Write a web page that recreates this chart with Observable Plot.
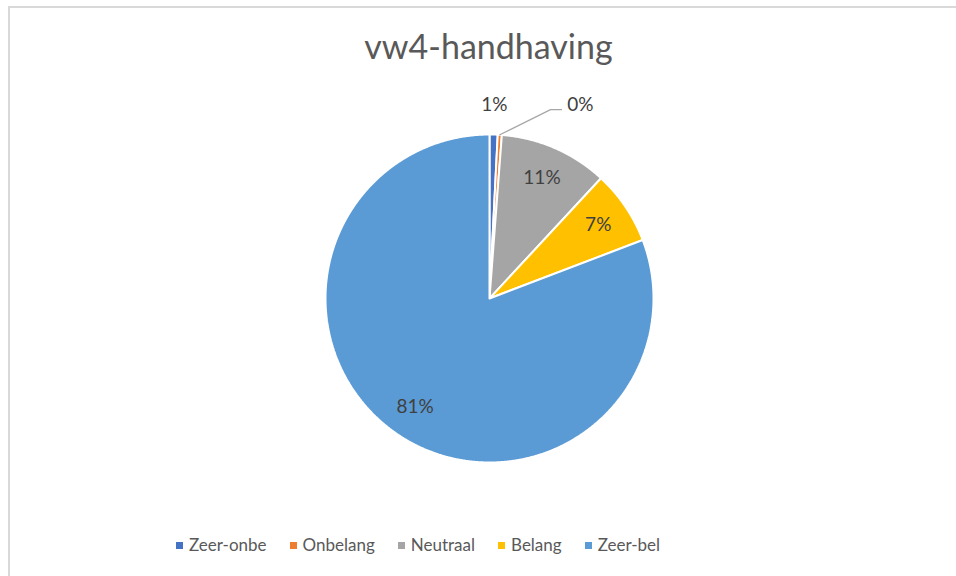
<!DOCTYPE html>
<html>
<head>
<meta charset="utf-8">
<script src="https://cdn.jsdelivr.net/npm/d3@7"></script>
<script src="https://cdn.jsdelivr.net/npm/@observablehq/plot@0.6"></script>
<style>
  body { margin: 0; background: #fff; font-family: Lato, "Open Sans", sans-serif; }
  #wrap { position: relative; width: 956px; height: 576px; overflow: hidden; background: #fff; }
  #frame { position: absolute; left: 8px; top: 6px; width: 1100px; height: 1100px; border: 2px solid #d9d9d9; box-sizing: border-box; }
  #title { position: absolute; left: 0; width: 977px; top: 26px; text-align: center; font-size: 34px; color: #595959; line-height: 40px; }
  #chart { position: absolute; left: 0; top: 0; }
  #legend { position: absolute; left: 176px; top: 532px; display: flex; align-items: center; gap: 23px; font-size: 17px; color: #595959; line-height: 26px; }
  .item { display: flex; align-items: center; gap: 6px; white-space: nowrap; }
  .sw { width: 7px; height: 7px; display: inline-block; }
</style>
</head>
<body>
<div id="wrap">
  <div id="frame"></div>
  <div id="title">vw4-handhaving</div>
  <div id="chart"></div>
  <div id="legend"></div>
</div>
<script>
// ---- data ----
const categories = ["Zeer-onbe", "Onbelang", "Neutraal", "Belang", "Zeer-bel"];
const shares = [0.8, 0.4, 10.7, 7.3, 80.8];          // percent of answers
const percentLabels = ["1%", "0%", "11%", "7%", "81%"];
const colors = ["#4472C4", "#ED7D31", "#A5A5A5", "#FFC000", "#5B9BD5"];

// ---- layout rules ----
const insideR = 0.8;       // label radius for large slices (fraction of radius)
const outsideR = 1.18;     // label radius for small slices
const smallSlice = 5;      // slices below this percentage get an outside label
const calloutShift = 0.48; // horizontal move of a colliding outside label (radius units)

const arcs = d3.pie().sort(null).value(d => d)(shares);

// wedge outlines, derived from the pie angles
const wedges = [];
arcs.forEach((a, i) => {
  const k = categories[i];
  const n = Math.max(2, Math.ceil((a.endAngle - a.startAngle) / (Math.PI / 720)));
  wedges.push({k, x: 0, y: 0});
  for (let j = 0; j <= n; j++) {
    const t = a.startAngle + (a.endAngle - a.startAngle) * j / n;
    wedges.push({k, x: Math.sin(t), y: Math.cos(t)});
  }
  wedges.push({k, x: 0, y: 0});
});

// labels
const labelData = [];
const leaders = [];
let outsideCount = 0;
arcs.forEach((a, i) => {
  const mid = (a.startAngle + a.endAngle) / 2;
  const small = shares[i] < smallSlice;
  const r = small ? outsideR : insideR;
  let x = r * Math.sin(mid), y = r * Math.cos(mid);
  if (small) {
    if (outsideCount > 0) {
      x += calloutShift;
      const ex = Math.sin(mid), ey = Math.cos(mid);
      leaders.push({k: categories[i], x: ex, y: ey});
      leaders.push({k: categories[i], x: x - 0.182, y: y - 0.026});
      leaders.push({k: categories[i], x: x - 0.115, y: y - 0.026});
    }
    outsideCount++;
  }
  labelData.push({k: categories[i], text: percentLabels[i], x, y});
});

const chart = Plot.plot({
  width: 956,
  height: 576,
  marginLeft: 325,
  marginRight: 303,
  marginTop: 134,
  marginBottom: 114,
  x: {domain: [-1, 1], axis: null},
  y: {domain: [-1, 1], axis: null},
  color: {domain: categories, range: colors},
  style: {background: "transparent", fontFamily: "Lato, 'Open Sans', sans-serif"},
  marks: [
    Plot.line(wedges, {x: "x", y: "y", z: "k", fill: "k", stroke: "white", strokeWidth: 2, strokeLinejoin: "miter", curve: "linear"}),
    Plot.line(leaders, {x: "x", y: "y", z: "k", stroke: "#a6a6a6", strokeWidth: 1.2, curve: "linear"}),
    Plot.text(labelData, {x: "x", y: "y", text: "text", fill: "#404040", fontSize: 19})
  ]
});
document.getElementById("chart").appendChild(chart);

// legend
const legend = document.getElementById("legend");
categories.forEach((c, i) => {
  const item = document.createElement("div");
  item.className = "item";
  const sw = document.createElement("span");
  sw.className = "sw";
  sw.style.background = colors[i];
  const tx = document.createElement("span");
  tx.textContent = c;
  item.appendChild(sw);
  item.appendChild(tx);
  legend.appendChild(item);
});
</script>
</body>
</html>
